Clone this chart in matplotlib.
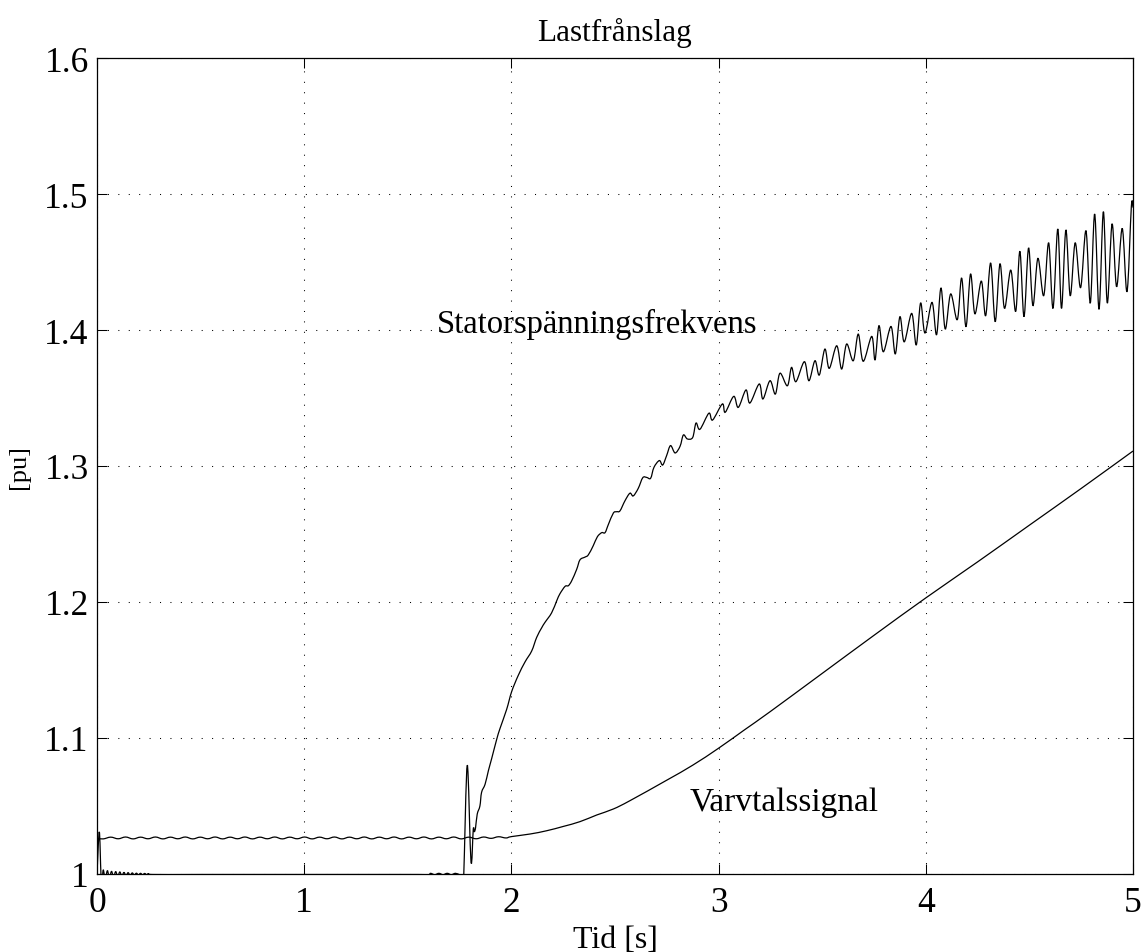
import numpy as np
import matplotlib
matplotlib.use("Agg")
import matplotlib.pyplot as plt
from matplotlib.path import Path
from matplotlib.patches import PathPatch

# ---------------- data ----------------
title = "Lastfrånslag"
xlabel = "Tid [s]"
ylabel = "[pu]"
xticks = [0, 1, 2, 3, 4, 5]
yticks = [1.0, 1.1, 1.2, 1.3, 1.4, 1.5, 1.6]
ytick_labels = ["1", "1.1", "1.2", "1.3", "1.4", "1.5", "1.6"]
label_freq = "Statorspänningsfrekvens"
label_speed = "Varvtalssignal"

# Statorspänningsfrekvens (time [s], value [pu])
freq_t = [0.000, 0.011, 0.019, 0.024, 0.030, 0.040, 0.050, 0.060, 0.070, 0.080,
          0.090, 0.100, 0.110, 0.120, 0.130, 0.140, 0.150, 0.160, 0.170, 0.180,
          0.190, 0.200, 0.210, 0.220, 0.230, 0.240, 0.250, 0.270, 0.500, 1.000,
          1.550, 1.600, 1.610, 1.630, 1.650, 1.670, 1.690, 1.710, 1.730, 1.750,
          1.765, 1.770,
          1.787, 1.805, 1.816, 1.821, 1.827, 1.835, 1.848, 1.856, 1.873, 1.889,
          1.905, 1.929, 1.945, 1.977, 2.001, 2.033, 2.066, 2.098, 2.122, 2.146,
          2.162, 2.194, 2.219, 2.234, 2.259, 2.275, 2.291, 2.315, 2.331, 2.355,
          2.371, 2.395, 2.415, 2.436, 2.452, 2.468, 2.492, 2.508, 2.524, 2.548,
          2.572, 2.588, 2.612, 2.634, 2.653, 2.672, 2.688, 2.714, 2.730, 2.749,
          2.768, 2.790, 2.814, 2.830, 2.849, 2.875, 2.891, 2.910, 2.953, 2.971,
          3.018, 3.032, 3.073, 3.095, 3.132, 3.151, 3.196, 3.214, 3.248, 3.274,
          3.296, 3.332, 3.352, 3.373, 3.414, 3.436, 3.465, 3.486, 3.513, 3.534,
          3.570, 3.594, 3.618, 3.650, 3.674, 3.698, 3.739, 3.755, 3.774, 3.795,
          3.832, 3.853, 3.875, 3.896, 3.932, 3.954, 3.975, 3.996, 4.030, 4.052,
          4.073, 4.094, 4.120, 4.152, 4.173, 4.194, 4.216, 4.237, 4.268, 4.289,
          4.313, 4.335, 4.358, 4.380, 4.410, 4.434, 4.454, 4.474, 4.496, 4.517,
          4.541, 4.569, 4.593, 4.614, 4.637, 4.655, 4.676, 4.697, 4.721, 4.747,
          4.773, 4.794, 4.815, 4.836, 4.857, 4.876, 4.899, 4.921, 4.948, 4.971,
          4.992, 5.000]
freq_v = [1.000, 1.031, 1.000, 0.992, 1.003, 0.996, 1.0025, 0.997, 1.002, 0.9975,
          1.0018, 0.998, 1.0015, 0.9985, 1.0012, 0.9988, 1.001, 0.999, 1.0008, 0.9992,
          1.0006, 0.9993, 1.0005, 0.9994, 1.0004, 0.9995, 1.0003, 0.9996, 0.9996, 0.9996,
          0.9996, 0.9995, 1.0005, 0.9995, 1.0005, 0.9995, 1.0005, 0.9995, 1.0005, 0.9995,
          0.999, 0.999,
          1.080, 1.009, 1.033, 1.031, 1.034, 1.044, 1.050, 1.060, 1.066, 1.076,
          1.085, 1.099, 1.107, 1.121, 1.134, 1.146, 1.156, 1.164, 1.174, 1.181,
          1.185, 1.192, 1.201, 1.206, 1.2115, 1.212, 1.2156, 1.224, 1.231, 1.233,
          1.2346, 1.2414, 1.248, 1.251, 1.251, 1.257, 1.2654, 1.2664, 1.267, 1.2744,
          1.280, 1.278, 1.2835, 1.2914, 1.2916, 1.291, 1.299, 1.304, 1.3007, 1.3076,
          1.315, 1.3096, 1.3145, 1.3228, 1.3199, 1.321, 1.3316, 1.327, 1.3388, 1.3338,
          1.3456, 1.3395, 1.3512, 1.3431, 1.3559, 1.3463, 1.3603, 1.3493, 1.3627, 1.3529,
          1.3682, 1.359, 1.3725, 1.362, 1.3767, 1.3627, 1.3774, 1.3669, 1.386, 1.3718,
          1.3884, 1.3713, 1.3897, 1.3774, 1.397, 1.377, 1.3953, 1.378, 1.4032, 1.384,
          1.4026, 1.3824, 1.4098, 1.3913, 1.4122, 1.389, 1.4199, 1.3978, 1.4203, 1.3965,
          1.4309, 1.4007, 1.4265, 1.4076, 1.4382, 1.4024, 1.4412, 1.4119, 1.436, 1.4105,
          1.4493, 1.4061, 1.4487, 1.4159, 1.4441, 1.4137, 1.4579, 1.4098, 1.4603, 1.4179,
          1.4527, 1.4252, 1.4641, 1.4159, 1.4743, 1.4159, 1.4735, 1.4252, 1.4641, 1.4311,
          1.473, 1.4198, 1.4853, 1.4152, 1.487, 1.4198, 1.478, 1.4318, 1.4747, 1.4282,
          1.4907, 1.490]

# Varvtalssignal (time [s], value [pu])
speed_t = [0.000, 0.030, 0.066, 0.102, 0.138, 0.174, 0.210, 0.246, 0.282, 0.318,
           0.354, 0.390, 0.426, 0.462, 0.498, 0.534, 0.570, 0.606, 0.642, 0.678,
           0.714, 0.750, 0.786, 0.822, 0.858, 0.894, 0.930, 0.966, 1.002, 1.038,
           1.074, 1.110, 1.146, 1.182, 1.218, 1.254, 1.290, 1.326, 1.362, 1.398,
           1.434, 1.470, 1.506, 1.542, 1.578, 1.614, 1.650, 1.686, 1.722, 1.758,
           1.794, 1.830, 1.866, 1.902, 1.938, 1.974, 2.000, 2.090, 2.170, 2.251,
           2.331, 2.412, 2.492, 2.572, 2.750, 2.875, 3.000, 3.125, 3.250, 3.500,
           3.750, 4.000, 4.250, 4.500, 4.750, 5.000]
speed_v = [1.0262, 1.0258, 1.0271, 1.0259, 1.0272, 1.0258, 1.0271, 1.0259, 1.0272, 1.0258,
           1.0271, 1.0259, 1.0272, 1.0258, 1.0271, 1.0259, 1.0272, 1.0258, 1.0271, 1.0259,
           1.0272, 1.0258, 1.0271, 1.0259, 1.0272, 1.0258, 1.0271, 1.0259, 1.0272, 1.0258,
           1.0271, 1.0259, 1.0272, 1.0258, 1.0271, 1.0259, 1.0272, 1.0258, 1.0271, 1.0259,
           1.0272, 1.0258, 1.0271, 1.0259, 1.0272, 1.0258, 1.0271, 1.0259, 1.0272, 1.0258,
           1.0271, 1.0259, 1.0272, 1.0262, 1.0274, 1.0265, 1.0275, 1.0294, 1.0318, 1.0350,
           1.0385, 1.0434, 1.0478, 1.0539, 1.0690, 1.0800, 1.0925, 1.1060, 1.1195, 1.1475,
           1.1755, 1.2030, 1.2295, 1.2565, 1.2835, 1.3110]


def smooth_path(xs, ys):
    """Cubic Bezier path through the given data points (Catmull-Rom tangents)."""
    p = np.column_stack([xs, ys]).astype(float)
    n = len(p)
    verts = [p[0]]
    codes = [Path.MOVETO]
    for i in range(n - 1):
        p0 = p[i - 1] if i > 0 else p[i]
        p1, p2 = p[i], p[i + 1]
        p3 = p[i + 2] if i + 2 < n else p[i + 1]
        c1 = p1 + (p2 - p0) / 6.0
        c2 = p2 - (p3 - p1) / 6.0
        verts += [c1, c2, p2]
        codes += [Path.CURVE4] * 3
    return Path(np.array(verts), codes)


# ---------------- plot ----------------
plt.rcParams['font.family'] = ['Liberation Serif', 'DejaVu Serif']
plt.rcParams['lines.scale_dashes'] = False

fig = plt.figure(figsize=(11.47, 9.53), dpi=100)
ax = fig.add_axes([97 / 1147, 1 - 875 / 953, 1036 / 1147, 816 / 953])

for xs, ys in [(freq_t, freq_v), (speed_t, speed_v)]:
    ax.add_patch(PathPatch(smooth_path(xs, ys), facecolor='none',
                           edgecolor='black', lw=0.9, transform=ax.transData))

ax.set_xlim(0, 5)
ax.set_ylim(1.0, 1.6)
ax.set_xticks(xticks)
ax.set_xticklabels([str(v) for v in xticks])
ax.set_yticks(yticks)
ax.set_yticklabels(ytick_labels)

ax.grid(True, color='black', lw=0.75, linestyle=(0, (0.75, 6.75)))
ax.tick_params(direction='in', length=7.5, width=0.75, top=True, right=True,
               labelsize=25.5)
ax.tick_params(axis='x', pad=9)
ax.tick_params(axis='y', pad=6)
for s in ax.spines.values():
    s.set_linewidth(0.9)

ax.set_title(title, fontsize=22.5, pad=13)
ax.set_xlabel(xlabel, fontsize=23, labelpad=4)
ax.set_ylabel(ylabel, fontsize=19, labelpad=10)

ax.text(1.641, 1.3985, label_freq, fontsize=23.5, ha='left', va='baseline')
ax.text(2.862, 1.047, label_speed, fontsize=24, ha='left', va='baseline')

fig.savefig("out.png", dpi=100)
